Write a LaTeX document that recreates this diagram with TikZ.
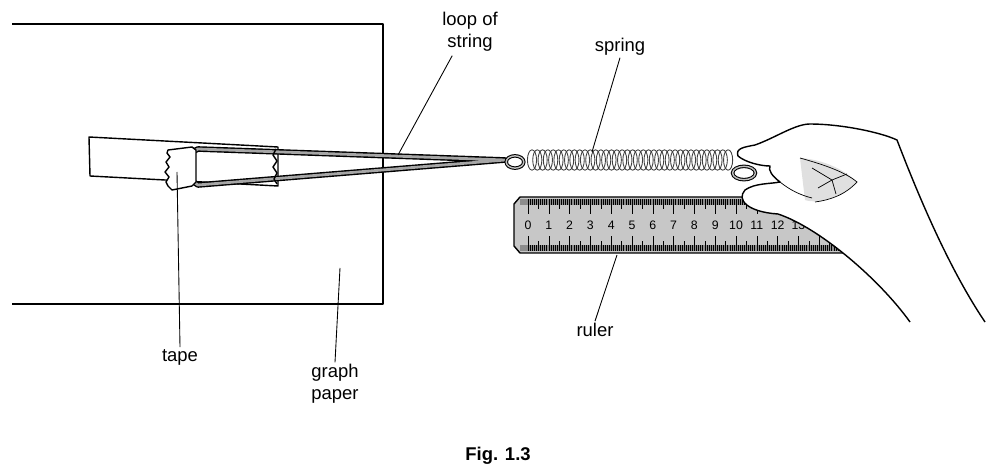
\documentclass[tikz,border=0pt]{standalone}
\usepackage{fontspec}
\setmainfont{Liberation Sans}
\usetikzlibrary{positioning,calc}

\begin{document}
\begin{tikzpicture}[x=0.02cm,y=-0.02cm,
		label/.style={font=\fontsize{10.5}{12.5}\selectfont,align=center,inner sep=1pt},
		leader/.style={line width=0.5pt},
		edge/.style={line width=0.8pt,line join=round},
		strand/.style={draw=black,line width=3.2pt,line join=round},
		strandin/.style={draw=black!35,line width=1.6pt,line join=round}]
	\useasboundingbox (0,0) rectangle (995,473);
	% graph paper
	\draw[edge] (12,24) -- (383,24) -- (383,304) -- (12,304);
	% block
	\draw[edge,fill=white] (89,137) -- (278,147) -- (278,186) -- (90,176) -- cycle;
	% string loop
	\draw[strand] (198,149) -- (505,160) -- (198,185) -- (192,181) -- (192,152) -- cycle;
	\draw[strandin] (198,149) -- (505,160) -- (198,185) -- (192,181) -- (192,152) -- cycle;
	% tape
	\draw[edge,fill=white] (168,150) -- (192,147) -- (196,150) -- (196,182) -- (192,186)
		-- (172,190) -- (168,186) -- (166,182) -- (169,177) -- (165,172) -- (169,167)
		-- (166,162) -- (170,157) -- (167,153) -- cycle;
	\draw[edge] (276,149) -- (273,155) -- (277,161) -- (273,167) -- (277,173) -- (274,179) -- (277,184);
	% rings
	\draw[draw=black,line width=2pt] (515,162) ellipse [x radius=5pt,y radius=3.5pt];
	\draw[draw=black!25,line width=0.8pt] (515,162) ellipse [x radius=5pt,y radius=3.5pt];
	\foreach \i in {0,...,37}
		\draw[black!75,line width=0.5pt] (532+\i*5.3,160) ellipse [x radius=2.6pt,y radius=5.8pt];
	\draw[draw=black,line width=2pt] (744,173) ellipse [x radius=6.5pt,y radius=3.8pt];
	\draw[draw=black!25,line width=0.8pt] (744,173) ellipse [x radius=6.5pt,y radius=3.8pt];
	% ruler
	\draw[edge,fill=black!22] (520,197) -- (850,197) -- (850,253) -- (520,253) -- (514,246) -- (514,204) -- cycle;
	\fill[black!45] (520,199) rectangle (850,205);
	\fill[black!45] (520,245) rectangle (850,251);
	\foreach \i in {0,...,150} {
		\pgfmathsetmacro{\xx}{528+\i*2.08}
		\pgfmathsetmacro{\ll}{ifthenelse(mod(\i,10)==0,15,ifthenelse(mod(\i,5)==0,10,6))}
		\draw[line width=0.3pt] (\xx,199) -- ++(0,\ll);
		\draw[line width=0.3pt] (\xx,251) -- ++(0,-\ll);
	}
	\foreach \n in {0,...,13}
		\node[font=\fontsize{7}{8}\selectfont,inner sep=0pt] (cm\n) at (528+\n*20.8,225) {\n};
	% hand
	\draw[edge,fill=white] (910,322) .. controls (880,280) and (820,228) .. (778,214)
		.. controls (748,212) and (736,200) .. (745,190)
		.. controls (755,183) and (770,184) .. (780,182)
		.. controls (772,176) and (768,170) .. (770,166)
		.. controls (760,166) and (745,162) .. (738,156)
		.. controls (735,148) and (745,147) .. (755,145)
		.. controls (775,138) and (795,124) .. (810,124)
		.. controls (840,124) and (880,132) .. (897,140)
		.. controls (920,200) and (950,270) .. (985,322);
	\fill[black!12] (800,158) .. controls (830,160) and (850,175) .. (857,182)
		.. controls (845,195) and (820,205) .. (805,200) -- cycle;
	\draw[line width=0.4pt] (800,158) .. controls (825,165) and (845,172) .. (857,182)
		.. controls (845,195) and (830,200) .. (815,202);
	\draw[line width=0.4pt] (812,168) -- (832,180) -- (847,174) (832,180) -- (836,194) (832,180) -- (818,188);
	\draw[line width=0.4pt] (780,182) .. controls (790,190) and (800,195) .. (812,198);
	% labels
	\node[label] (loop) at (470,32) {loop of\\string};
	\node[label] (spring) at (620,47) {spring};
	\node[label] (tape) at (180,357) {tape};
	\node[label] (graph) at (335,384) {graph\\paper};
	\node[label] (ruler) at (595,330) {ruler};
	\node[label,font=\fontsize{10.5}{12.5}\selectfont\bfseries] (fig) at (498,456) {Fig. 1.3};
	\coordinate (loopend) at (398,155);
	\coordinate (springend) at (592,152);
	\coordinate (tapeend) at (177,172);
	\coordinate (graphend) at (340,268);
	\coordinate (rulerend) at (617,255);
	\draw[leader] (loop.south west) ++(12,2) -- (loopend);
	\draw[leader] (spring.south) -- (springend);
	\draw[leader] (tape.north) -- (tapeend);
	\draw[leader] (graph.north) -- (graphend);
	\draw[leader] (ruler.north) -- (rulerend);
\end{tikzpicture}
\end{document}
